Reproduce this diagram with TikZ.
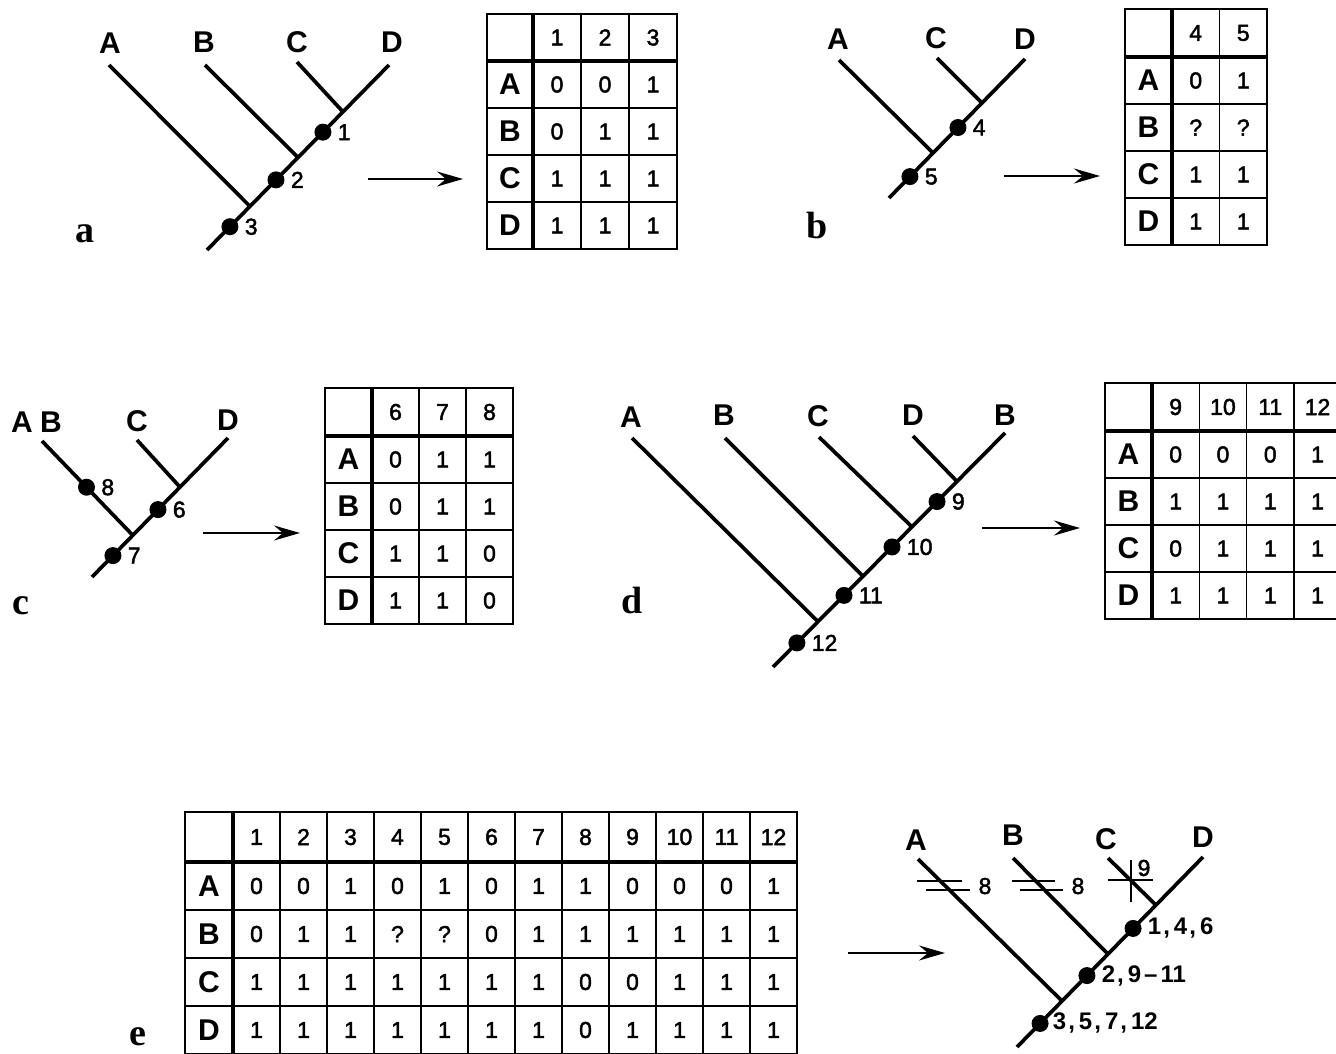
\documentclass[tikz,border=0pt]{standalone}
\usepackage{fontspec}
\setmainfont{Liberation Sans}
\newfontfamily\serifbf{Liberation Serif}
\newfontfamily\digfont[RawFeature={embolden=2}]{Liberation Sans}
\usetikzlibrary{arrows.meta,calc}

\tikzset{
  branch/.style={line width=3.7pt, line cap=butt},
  hdr/.style={font=\fontsize{23}{23}\selectfont\digfont, inner sep=0pt},
  cell/.style={font=\fontsize{23}{23}\selectfont\digfont, inner sep=0pt},
  rowlab/.style={font=\fontsize{30}{30}\selectfont\bfseries, inner sep=0pt},
  taxon/.style={font=\fontsize{30}{30}\selectfont\bfseries, inner sep=0pt},
  dot/.style={circle, fill, inner sep=0pt, minimum size=17pt},
  dotlab/.style={font=\fontsize{23}{23}\selectfont\digfont, inner sep=0pt, anchor=west},
  dotlabe/.style={font=\fontsize{24}{24}\selectfont\bfseries, inner sep=0pt, anchor=west},
  panel/.style={font=\fontsize{38}{38}\selectfont\serifbf\bfseries, inner sep=0pt, anchor=base},
  flow/.style={line width=1.6pt, -{Stealth[length=26pt,width=15pt,inset=9pt]}},
  hash/.style={line width=2pt},
  thinhash/.style={line width=1.3pt},
  hashlab/.style={font=\fontsize{23}{23}\selectfont\digfont, inner sep=0pt},
  gridthin/.style={line width=1.2pt},
  gridthick/.style={line width=3.6pt},
  gridouter/.style={line width=2.4pt}
}

% #1 name, #2 x0, #3 y0, #4 header-col width, #5 cell width, #6 header height, #7 row height, #8 headers, #9 rows
\newcommand\chartab[9]{%
  \foreach \hd [count=\ci] in {#8} {
    \xdef\tabncols{\ci}
    \node[hdr] (#1-h\ci) at ({#2+#4+(\ci-0.5)*#5},{#3+#6/2}) {\hd};
  }
  \foreach \lab [count=\ri] in {A,B,C,D} {
    \node[rowlab] (#1-\lab) at ({#2+#4/2},{#3+#6+(\ri-0.5)*#7}) {\lab};
  }
  \foreach \rowvals [count=\ri] in {#9} {
    \foreach \v [count=\ci] in \rowvals {
      \node[cell] (#1-\ri-\ci) at ({#2+#4+(\ci-0.5)*#5},{#3+#6+(\ri-0.5)*#7}) {\v};
    }
  }
  \pgfmathsetmacro\tabright{#2+#4+\tabncols*#5}
  \pgfmathsetmacro\tabbot{#3+#6+4*#7}
  \foreach \ci in {1,...,\tabncols} {
    \draw[gridthin] ({#2+#4+\ci*#5},#3) -- ({#2+#4+\ci*#5},\tabbot);
  }
  \foreach \ri in {1,2,3} {
    \draw[gridthin] (#2,{#3+#6+\ri*#7}) -- (\tabright,{#3+#6+\ri*#7});
  }
  \draw[gridthick] ({#2+#4},#3) -- ({#2+#4},\tabbot);
  \draw[gridthick] (#2,{#3+#6}) -- (\tabright,{#3+#6});
  \draw[gridouter] (#2,#3) rectangle (\tabright,\tabbot);
}

\newcommand\cma{\kern2pt,\kern4pt}

\begin{document}
\begin{tikzpicture}[x=1pt,y=-1pt]
\useasboundingbox (0,0) rectangle (1336,1054);
\fill[white] (0,0) rectangle (1336,1054);
\clip (0,0) rectangle (1336,1054);

% ================= panel a =================
\coordinate (a-r) at (207,250);
\coordinate (a-tD) at (389,65);
\coordinate (a-tA) at (109,65);
\coordinate (a-tB) at (205,65);
\coordinate (a-tC) at (297,62);
\coordinate (a-jC) at ($(a-r)!0.747!(a-tD)$);
\coordinate (a-jB) at ($(a-r)!0.50!(a-tD)$);
\coordinate (a-jA) at ($(a-r)!0.236!(a-tD)$);
\draw[branch] (a-r) -- (a-tD);
\draw[branch] (a-tA) -- (a-jA);
\draw[branch] (a-tB) -- (a-jB);
\draw[branch] (a-tC) -- (a-jC);
\node[taxon] (a-A) at (110,43) {A};
\node[taxon] (a-B) at (204,42) {B};
\node[taxon] (a-C) at (297,42) {C};
\node[taxon] (a-D) at (392,42) {D};
\node[dot] (a-d1) at ($(a-r)!0.637!(a-tD)$) {};
\node[dot] (a-d2) at ($(a-r)!0.379!(a-tD)$) {};
\node[dot] (a-d3) at ($(a-r)!0.126!(a-tD)$) {};
\node[dotlab] (a-l1) at ([xshift=6pt]a-d1.east) {1};
\node[dotlab] (a-l2) at ([xshift=6pt]a-d2.east) {2};
\node[dotlab] (a-l3) at ([xshift=6pt]a-d3.east) {3};
\node[panel] (a-p) at (85,242) {a};
\coordinate (a-as) at (368,179);
\coordinate (a-ae) at (463,179);
\draw[flow] (a-as) -- (a-ae);
\chartab{ta}{487}{14}{46}{48}{47}{47}{1,2,3}{{0,0,1},{0,1,1},{1,1,1},{1,1,1}}

% ================= panel b =================
\coordinate (b-r) at (889,198);
\coordinate (b-tD) at (1025,59);
\coordinate (b-tA) at (839,60);
\coordinate (b-tC) at (937,58);
\coordinate (b-jC) at ($(b-r)!0.684!(b-tD)$);
\coordinate (b-jA) at ($(b-r)!0.324!(b-tD)$);
\draw[branch] (b-r) -- (b-tD);
\draw[branch] (b-tA) -- (b-jA);
\draw[branch] (b-tC) -- (b-jC);
\node[taxon] (b-A) at (838,39) {A};
\node[taxon] (b-C) at (936,38) {C};
\node[taxon] (b-D) at (1025,39) {D};
\node[dot] (b-d4) at ($(b-r)!0.507!(b-tD)$) {};
\node[dot] (b-d5) at ($(b-r)!0.154!(b-tD)$) {};
\node[dotlab] (b-l4) at ([xshift=6pt]b-d4.east) {4};
\node[dotlab] (b-l5) at ([xshift=6pt]b-d5.east) {5};
\node[panel] (b-p) at (817,238) {b};
\coordinate (b-as) at (1004,176);
\coordinate (b-ae) at (1100,176);
\draw[flow] (b-as) -- (b-ae);
\chartab{tb}{1125}{9}{47}{47.5}{48}{47}{4,5}{{0,1},{?,?},{1,1},{1,1}}

% ================= panel c =================
\coordinate (c-r) at (92,577);
\coordinate (c-tD) at (228,438);
\coordinate (c-tAB) at (42,441);
\coordinate (c-tC) at (137,440);
\coordinate (c-jC) at ($(c-r)!0.647!(c-tD)$);
\coordinate (c-jAB) at ($(c-r)!0.30!(c-tD)$);
\draw[branch] (c-r) -- (c-tD);
\draw[branch] (c-tAB) -- (c-jAB);
\draw[branch] (c-tC) -- (c-jC);
\node[taxon] (c-A) at (22,422) {A};
\node[taxon] (c-B) at (51,422) {B};
\node[taxon] (c-C) at (137,421) {C};
\node[taxon] (c-D) at (228,420) {D};
\node[dot] (c-d8) at ($(c-tAB)!0.49!(c-jAB)$) {};
\node[dot] (c-d6) at ($(c-r)!0.485!(c-tD)$) {};
\node[dot] (c-d7) at ($(c-r)!0.154!(c-tD)$) {};
\node[dotlab] (c-l8) at ([xshift=6pt]c-d8.east) {8};
\node[dotlab] (c-l6) at ([xshift=6pt]c-d6.east) {6};
\node[dotlab] (c-l7) at ([xshift=6pt]c-d7.east) {7};
\node[panel] (c-p) at (21,614) {c};
\coordinate (c-as) at (203,533);
\coordinate (c-ae) at (300,533);
\draw[flow] (c-as) -- (c-ae);
\chartab{tc}{325}{388}{47}{47}{48}{47}{6,7,8}{{0,1,1},{0,1,1},{1,1,0},{1,1,0}}

% ================= panel d =================
\coordinate (d-r) at (773,667);
\coordinate (d-tB2) at (1005,433);
\coordinate (d-tA) at (632,438);
\coordinate (d-tB) at (725,438);
\coordinate (d-tC) at (819,437);
\coordinate (d-tD) at (913,436);
\coordinate (d-jD) at ($(d-r)!0.793!(d-tB2)$);
\coordinate (d-jC) at ($(d-r)!0.599!(d-tB2)$);
\coordinate (d-jB) at ($(d-r)!0.388!(d-tB2)$);
\coordinate (d-jA) at ($(d-r)!0.194!(d-tB2)$);
\draw[branch] (d-r) -- (d-tB2);
\draw[branch] (d-tA) -- (d-jA);
\draw[branch] (d-tB) -- (d-jB);
\draw[branch] (d-tC) -- (d-jC);
\draw[branch] (d-tD) -- (d-jD);
\node[taxon] (d-A) at (631,417) {A};
\node[taxon] (d-B) at (724,415) {B};
\node[taxon] (d-C) at (818,416) {C};
\node[taxon] (d-D) at (913,415) {D};
\node[taxon] (d-B2) at (1005,415) {B};
\node[dot] (d-d9) at ($(d-r)!0.707!(d-tB2)$) {};
\node[dot] (d-d10) at ($(d-r)!0.513!(d-tB2)$) {};
\node[dot] (d-d11) at ($(d-r)!0.306!(d-tB2)$) {};
\node[dot] (d-d12) at ($(d-r)!0.103!(d-tB2)$) {};
\node[dotlab] (d-l9) at ([xshift=6pt]d-d9.east) {9};
\node[dotlab] (d-l10) at ([xshift=6pt]d-d10.east) {10};
\node[dotlab] (d-l11) at ([xshift=6pt]d-d11.east) {11};
\node[dotlab] (d-l12) at ([xshift=6pt]d-d12.east) {12};
\node[panel] (d-p) at (632,613) {d};
\coordinate (d-as) at (982,528);
\coordinate (d-ae) at (1080,528);
\draw[flow] (d-as) -- (d-ae);
\chartab{td}{1105}{383}{47}{47.3}{48}{47}{9,10,11,12}{{0,0,0,1},{1,1,1,1},{0,1,1,1},{1,1,1,1}}

% ================= panel e =================
\node[panel] (e-p) at (138,1045) {e};
\chartab{te}{185}{812}{48}{47}{50}{48}{1,2,3,4,5,6,7,8,9,10,11,12}{{0,0,1,0,1,0,1,1,0,0,0,1},{0,1,1,?,?,0,1,1,1,1,1,1},{1,1,1,1,1,1,1,0,0,1,1,1},{1,1,1,1,1,1,1,0,1,1,1,1}}
\coordinate (e-as) at (848,953);
\coordinate (e-ae) at (945,953);
\draw[flow] (e-as) -- (e-ae);

\coordinate (e-r) at (1017,1047);
\coordinate (e-tD) at (1203,857);
\coordinate (e-tA) at (918,859);
\coordinate (e-tB) at (1013,858);
\coordinate (e-tC) at (1108,858);
\coordinate (e-jC) at ($(e-r)!0.747!(e-tD)$);
\coordinate (e-jB) at ($(e-r)!0.489!(e-tD)$);
\coordinate (e-jA) at ($(e-r)!0.242!(e-tD)$);
\draw[branch] (e-r) -- (e-tD);
\draw[branch] (e-tA) -- (e-jA);
\draw[branch] (e-tB) -- (e-jB);
\draw[branch] (e-tC) -- (e-jC);
\node[taxon] (e-A) at (916,840) {A};
\node[taxon] (e-B) at (1013,835) {B};
\node[taxon] (e-C) at (1106,839) {C};
\node[taxon] (e-D) at (1203,837) {D};
\node[dot] (e-d1) at ($(e-r)!0.624!(e-tD)$) {};
\node[dot] (e-d2) at ($(e-r)!0.376!(e-tD)$) {};
\node[dot] (e-d3) at ($(e-r)!0.124!(e-tD)$) {};
\node[dotlabe] (e-l1) at ([xshift=6pt]e-d1.east) {1\cma4\cma6};
\node[dotlabe] (e-l2) at ([xshift=6pt]e-d2.east) {2\cma9\kern3pt\textendash\kern3pt11};
\node[dotlabe] (e-l3) at ([xshift=4pt]e-d3.east) {3\cma5\cma7\cma12};
% reversal / loss marks
\draw[hash] (917,881) -- (962,881);
\draw[hash] (926,890) -- (970,890);
\node[hashlab] (e-h8a) at (985,886) {8};
\draw[hash] (1012,881) -- (1055,881);
\draw[hash] (1020,890) -- (1063,890);
\node[hashlab] (e-h8b) at (1078,886) {8};
\draw[hash] (1108,880) -- (1153,880);
\draw[thinhash] (1131,860) -- (1131,902);
\node[hashlab] (e-h9) at (1144,868) {9};
\end{tikzpicture}
\end{document}
